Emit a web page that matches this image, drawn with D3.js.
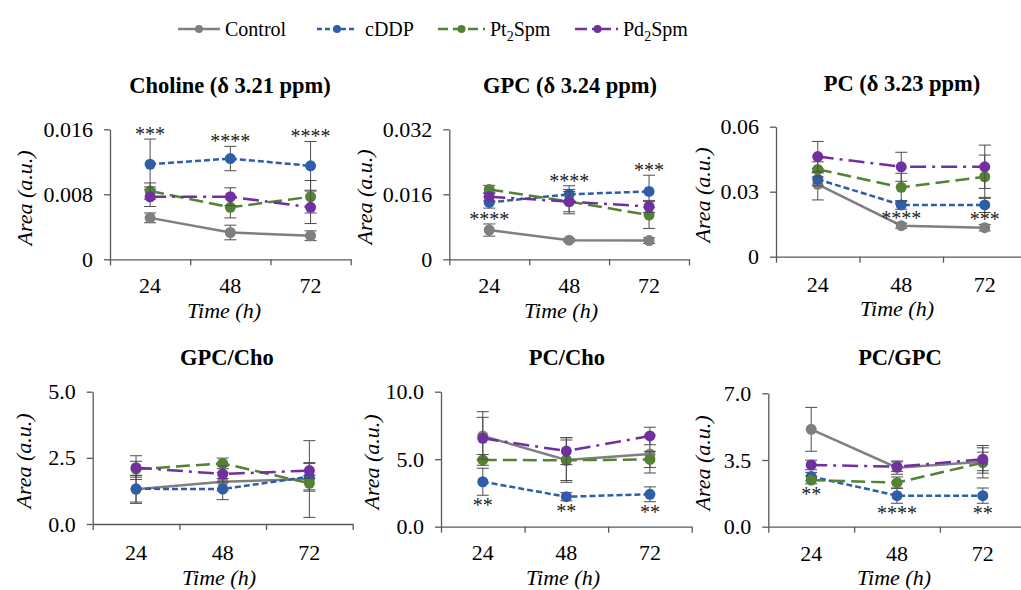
<!DOCTYPE html>
<html>
<head>
<meta charset="utf-8">
<script src="https://cdn.jsdelivr.net/npm/d3@7"></script>
</head>
<body style="margin:0;background:#fff">
<svg id="fig" width="1021" height="590" style="display:block"></svg>
<script>
// ---- data ----
const categories = ['24', '48', '72'];
const seriesNames = ['Control', 'cDDP', 'Pt₂Spm', 'Pd₂Spm'];

// rows: Control, cDDP, Pt2Spm, Pd2Spm
const cholineMeans = [[0.0051, 0.0033, 0.0029], [0.0117, 0.0124, 0.0115], [0.0084, 0.0064, 0.0077], [0.0077, 0.0077, 0.0064]];
const cholineErrs = [[0.0006, 0.0009, 0.0006], [0.0031, 0.0015, 0.0030], [0.0010, 0.0013, 0.0020], [0.0012, 0.0011, 0.0020]];
const cholineStars = ['***', '****', '****'];

const gpcMeans = [[0.0072, 0.0047, 0.0046], [0.0140, 0.0160, 0.0167], [0.0172, 0.0142, 0.0109], [0.0154, 0.0142, 0.0130]];
const gpcErrs = [[0.0015, 0.0004, 0.0007], [0.0014, 0.0021, 0.0040], [0.0010, 0.0030, 0.0033], [0.0010, 0.0025, 0.0015]];
const gpcStars = ['****', '****', '***'];

const pcMeans = [[0.0334, 0.0143, 0.0134], [0.0357, 0.0239, 0.0239], [0.0403, 0.0320, 0.0369], [0.0462, 0.0415, 0.0415]];
const pcErrs = [[0.0072, 0.0012, 0.0015], [0.0030, 0.0020, 0.0035], [0.0035, 0.0065, 0.0100], [0.0070, 0.0067, 0.0100]];
const pcStars = ['', '****', '***'];

const gpcChoMeans = [[1.31, 1.60, 1.70], [1.33, 1.32, 1.79], [2.07, 2.29, 1.54], [2.13, 1.89, 2.02]];
const gpcChoErrs = [[0.53, 0.35, 1.45], [0.50, 0.40, 0.50], [0.30, 0.20, 0.30], [0.45, 0.30, 0.30]];
const gpcChoStars = ['', '', ''];

const pcChoMeans = [[6.72, 4.94, 5.38], [3.33, 2.22, 2.40], [4.95, 4.92, 4.98], [6.55, 5.60, 6.72]];
const pcChoErrs = [[1.80, 1.65, 1.40], [1.00, 0.30, 0.55], [0.40, 1.50, 0.60], [1.55, 1.00, 0.65]];
const pcChoStars = ['**', '**', '**'];

const pcGpcMeans = [[5.11, 3.10, 3.41], [2.63, 1.63, 1.63], [2.45, 2.31, 3.36], [3.24, 3.15, 3.54]];
const pcGpcErrs = [[1.15, 0.35, 0.85], [0.22, 0.40, 0.40], [0.20, 0.30, 0.55], [0.25, 0.25, 0.60]];
const pcGpcStars = ['**', '****', '**'];

const titles = ['Choline (δ 3.21 ppm)', 'GPC (δ 3.24 ppm)', 'PC (δ 3.23 ppm)', 'GPC/Cho', 'PC/Cho', 'PC/GPC'];
const yTickValues = [[0, 0.008, 0.016], [0, 0.016, 0.032], [0, 0.03, 0.06], [0, 2.5, 5], [0, 5, 10], [0, 3.5, 7]];
const yTickLabels = [['0', '0.008', '0.016'], ['0', '0.016', '0.032'], ['0', '0.03', '0.06'], ['0.0', '2.5', '5.0'], ['0.0', '5.0', '10.0'], ['0.0', '3.5', '7.0']];

// ---- styles / layout ----
const FONT = 'Liberation Serif';
const colors = ['#7f7f7f', '#2f5ea8', '#548235', '#7030a0'];
const dashes = [null, '6,3', '14,6', '16,6,3,6'];
const legendDashes = [null, '5,3', '10,5', '12,5,2,5'];
const axisColor = '#595959';
const errColor = '#4d4d4d';

const panels = [
  { means: cholineMeans, errs: cholineErrs, stars: cholineStars, starSeries: [1, 1, 1], below: false,
    x0: 110, x1: 350.7, yTop: 129.3, yBot: 259.3, titleX: 230, titleY: 93, tickY: 293, timeX: 224, timeY: 318, labX: 32, labY: 198 },
  { means: gpcMeans, errs: gpcErrs, stars: gpcStars, starSeries: [0, 1, 1], below: false,
    x0: 449.3, x1: 689, yTop: 129.3, yBot: 259.3, titleX: 570, titleY: 93, tickY: 293, timeX: 561, timeY: 318, labX: 372, labY: 197 },
  { means: pcMeans, errs: pcErrs, stars: pcStars, starSeries: [0, 0, 0], below: false,
    x0: 776, x1: 1026.5, yTop: 126.7, yBot: 256.7, titleX: 902, titleY: 91, tickY: 292, timeX: 897, timeY: 316, labX: 710, labY: 195 },
  { means: gpcChoMeans, errs: gpcChoErrs, stars: gpcChoStars, starSeries: [0, 0, 0], below: false,
    x0: 92.7, x1: 352.7, yTop: 391.7, yBot: 524, titleX: 227, titleY: 365, tickY: 560, timeX: 219, timeY: 585, labX: 31, labY: 461 },
  { means: pcChoMeans, errs: pcChoErrs, stars: pcChoStars, starSeries: [1, 1, 1], below: true,
    x0: 441, x1: 691.7, yTop: 391.7, yBot: 526.7, titleX: 567, titleY: 365, tickY: 560, timeX: 563, timeY: 585, labX: 379, labY: 462 },
  { means: pcGpcMeans, errs: pcGpcErrs, stars: pcGpcStars, starSeries: [2, 1, 1], below: true,
    x0: 768.3, x1: 1025.7, yTop: 393.3, yBot: 526.7, titleX: 900, titleY: 365, tickY: 561, timeX: 894, timeY: 585, labX: 710, labY: 463 },
];

const svg = d3.select('#fig');
const serif = (sel) => sel.attr('font-family', FONT).style('font-family', FONT, 'important');

// writes "Pt₂Spm" with a real subscript 2
function writeName(text, name) {
  const parts = name.split('₂');
  parts.forEach((p, i) => {
    if (i > 0) {
      text.append('tspan').attr('font-size', '0.7em').attr('dy', 5).text('2');
      text.append('tspan').attr('dy', -5).text(p);
    } else {
      text.append('tspan').text(p);
    }
  });
}

// ---- legend ----
const legendLine = [[178, 220], [317, 357], [438, 485], [575, 620]];
const legendText = [225, 365, 490, 623];
const legendY = 29;
seriesNames.forEach((name, i) => {
  const g = svg.append('g');
  g.append('line')
    .attr('x1', legendLine[i][0]).attr('x2', legendLine[i][1])
    .attr('y1', legendY).attr('y2', legendY)
    .attr('stroke', colors[i]).attr('stroke-width', 2.5)
    .attr('stroke-dasharray', legendDashes[i]);
  g.append('circle')
    .attr('cx', (legendLine[i][0] + legendLine[i][1]) / 2).attr('cy', legendY)
    .attr('r', 4).attr('fill', colors[i]);
  const t = g.append('text')
    .attr('x', legendText[i]).attr('y', legendY + 7)
    .attr('font-size', 20).attr('fill', '#000')
    .call(serif);
  writeName(t, name);
});

// ---- panels ----
panels.forEach((p, k) => {
  const g = svg.append('g');
  const x = d3.scaleBand().domain(categories).range([p.x0, p.x1]).padding(0);
  const cx = (c) => x(c) + x.bandwidth() / 2;
  const y = d3.scaleLinear().domain([0, yTickValues[k][2]]).range([p.yBot, p.yTop]);

  // title
  g.append('text')
    .attr('x', p.titleX).attr('y', p.titleY)
    .attr('text-anchor', 'middle').attr('font-weight', 'bold').attr('font-size', 22.5)
    .call(serif)
    .text(titles[k]);

  // y axis
  const yAxis = g.append('g')
    .attr('transform', `translate(${p.x0},0)`)
    .call(d3.axisLeft(y).tickValues(yTickValues[k]).tickSize(6).tickSizeOuter(0).tickPadding(11)
      .tickFormat((d, i) => yTickLabels[k][i]))
    .call(serif);
  yAxis.select('.domain').attr('stroke', axisColor).attr('stroke-width', 1.3);
  yAxis.selectAll('.tick line').attr('stroke', axisColor).attr('stroke-width', 1.3);
  yAxis.selectAll('.tick text').attr('font-size', 22).attr('fill', '#000').call(serif);

  // x axis: ticks between categories, labels at centres
  const edges = d3.scaleLinear().domain([0, categories.length]).range([p.x0, p.x1]);
  const xEdge = g.append('g')
    .attr('transform', `translate(0,${p.yBot})`)
    .call(d3.axisBottom(edges).tickValues(d3.range(categories.length + 1)).tickSize(6).tickSizeOuter(0).tickFormat(''));
  xEdge.select('.domain').attr('stroke', axisColor).attr('stroke-width', 1.3);
  xEdge.selectAll('.tick line').attr('stroke', axisColor).attr('stroke-width', 1.3);

  const xLab = g.append('g')
    .attr('transform', `translate(0,${p.tickY})`)
    .call(d3.axisBottom(x).tickSize(0).tickPadding(0))
    .call(serif);
  xLab.select('.domain').remove();
  xLab.selectAll('.tick text').attr('font-size', 22).attr('fill', '#000').attr('dy', 0).call(serif);

  g.append('text')
    .attr('x', p.timeX).attr('y', p.timeY)
    .attr('text-anchor', 'middle').attr('font-style', 'italic').attr('font-size', 22)
    .call(serif)
    .text('Time (h)');

  g.append('text')
    .attr('transform', `translate(${p.labX},${p.labY}) rotate(-90)`)
    .attr('text-anchor', 'middle').attr('font-style', 'italic').attr('font-size', 22)
    .call(serif)
    .text('Area (a.u.)');

  // series
  const line = d3.line().x((d) => cx(d.c)).y((d) => y(d.v));
  p.means.forEach((vals, s) => {
    const pts = vals.map((v, i) => ({ c: categories[i], v, e: p.errs[s][i] }));
    const sg = g.append('g');
    sg.append('path')
      .datum(pts)
      .attr('fill', 'none')
      .attr('stroke', colors[s]).attr('stroke-width', 2.5)
      .attr('stroke-dasharray', dashes[s])
      .attr('d', line);
    const eb = sg.selectAll('g.err').data(pts).join('g').attr('class', 'err')
      .attr('stroke', errColor).attr('stroke-width', 1);
    eb.append('line')
      .attr('x1', (d) => cx(d.c)).attr('x2', (d) => cx(d.c))
      .attr('y1', (d) => y(d.v - d.e)).attr('y2', (d) => y(d.v + d.e));
    eb.append('line')
      .attr('x1', (d) => cx(d.c) - 6).attr('x2', (d) => cx(d.c) + 6)
      .attr('y1', (d) => y(d.v + d.e)).attr('y2', (d) => y(d.v + d.e));
    eb.append('line')
      .attr('x1', (d) => cx(d.c) - 6).attr('x2', (d) => cx(d.c) + 6)
      .attr('y1', (d) => y(d.v - d.e)).attr('y2', (d) => y(d.v - d.e));
    sg.selectAll('circle').data(pts).join('circle')
      .attr('cx', (d) => cx(d.c)).attr('cy', (d) => y(d.v))
      .attr('r', 5.5).attr('fill', colors[s]);
  });

  // significance marks
  g.selectAll('text.star').data(p.stars).join('text')
    .attr('class', 'star')
    .attr('x', (d, i) => cx(categories[i]))
    .attr('y', (d, i) => {
      const s = p.starSeries[i];
      const v = p.means[s][i], e = p.errs[s][i];
      return p.below ? y(v - e) + 17 : y(v + e) + 2;
    })
    .attr('text-anchor', 'middle').attr('font-size', 20).attr('fill', '#222')
    .call(serif)
    .text((d) => d);
});
</script>
</body>
</html>
